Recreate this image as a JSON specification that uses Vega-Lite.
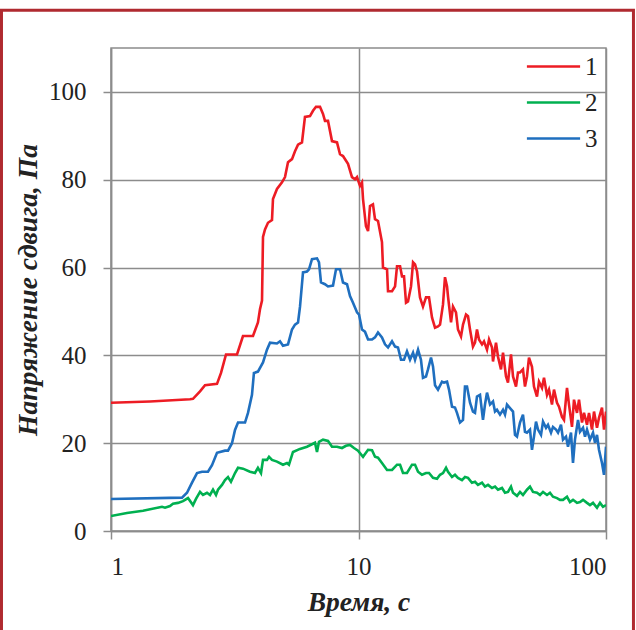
{
  "$schema": "https://vega.github.io/schema/vega-lite/v6.json",
  "width": 495,
  "height": 483,
  "autosize": {"type": "none"},
  "padding": {"left": 111, "top": 48, "right": 30, "bottom": 99},
  "background": "white",
  "config": {
    "view": {"stroke": "#8c8c8c", "strokeWidth": 1.5},
    "font": "Liberation Serif",
    "axis": {
      "gridColor": "#8c8c8c", "gridWidth": 1.5, "gridOpacity": 1,
      "domainColor": "#8c8c8c", "domainWidth": 1.5,
      "tickColor": "#8c8c8c", "tickWidth": 1.5, "tickSize": 8,
      "labelFont": "Liberation Serif", "labelFontSize": 25, "labelColor": "#222222",
      "titleFont": "Liberation Serif", "titleFontSize": 27.5, "titleFontStyle": "italic", "titleFontWeight": "bold", "titleColor": "#222222"
    }
  },
  "layer": [
    {
      "data": {"values": [
{"s":"1","t":1,"v":29.2},{"s":"1","t":1.437,"v":29.5},{"s":"1","t":2.085,"v":30.0},{"s":"1","t":2.144,"v":30.1},{"s":"1","t":2.289,"v":31.8},{"s":"1","t":2.398,"v":33.2},{"s":"1","t":2.681,"v":33.5},{"s":"1","t":2.783,"v":36},{"s":"1","t":2.915,"v":40.2},{"s":"1","t":3.229,"v":40.2},{"s":"1","t":3.414,"v":44.4},{"s":"1","t":3.747,"v":44.4},{"s":"1","t":3.924,"v":47.5},{"s":"1","t":3.999,"v":50.5},{"s":"1","t":4.075,"v":52.5},{"s":"1","t":4.113,"v":67},{"s":"1","t":4.19,"v":68.7},{"s":"1","t":4.308,"v":70.2},{"s":"1","t":4.472,"v":70.8},{"s":"1","t":4.513,"v":75.6},{"s":"1","t":4.684,"v":77.9},{"s":"1","t":4.908,"v":79.4},{"s":"1","t":5.047,"v":80.6},{"s":"1","t":5.19,"v":84},{"s":"1","t":5.386,"v":84.7},{"s":"1","t":5.539,"v":86.5},{"s":"1","t":5.697,"v":88},{"s":"1","t":5.911,"v":88.5},{"s":"1","t":6.077,"v":94.3},{"s":"1","t":6.368,"v":94.5},{"s":"1","t":6.549,"v":95.7},{"s":"1","t":6.734,"v":96.6},{"s":"1","t":6.989,"v":96.6},{"s":"1","t":7.188,"v":95},{"s":"1","t":7.322,"v":93.4},{"s":"1","t":7.53,"v":93.4},{"s":"1","t":7.815,"v":88.8},{"s":"1","t":8.187,"v":88.5},{"s":"1","t":8.42,"v":85.8},{"s":"1","t":8.657,"v":85.4},{"s":"1","t":9.07,"v":83.6},{"s":"1","t":9.412,"v":80.6},{"s":"1","t":9.679,"v":80.1},{"s":"1","t":9.861,"v":80.6},{"s":"1","t":10.14,"v":78.6},{"s":"1","t":10.33,"v":79.4},{"s":"1","t":10.43,"v":75.6},{"s":"1","t":10.72,"v":69.4},{"s":"1","t":10.93,"v":68.3},{"s":"1","t":11.13,"v":74},{"s":"1","t":11.44,"v":74.4},{"s":"1","t":11.66,"v":71},{"s":"1","t":11.99,"v":70.6},{"s":"1","t":12.44,"v":65.8},{"s":"1","t":12.56,"v":60},{"s":"1","t":13.04,"v":59.6},{"s":"1","t":13.16,"v":54.6},{"s":"1","t":13.66,"v":54.6},{"s":"1","t":14.05,"v":55.7},{"s":"1","t":14.31,"v":60.3},{"s":"1","t":14.72,"v":60.3},{"s":"1","t":14.99,"v":58},{"s":"1","t":15.27,"v":58},{"s":"1","t":15.56,"v":52},{"s":"1","t":15.85,"v":52.3},{"s":"1","t":16.3,"v":55.7},{"s":"1","t":16.61,"v":61.2},{"s":"1","t":16.92,"v":60.7},{"s":"1","t":17.24,"v":59.1},{"s":"1","t":17.72,"v":53.2},{"s":"1","t":18.22,"v":51.1},{"s":"1","t":18.74,"v":53.2},{"s":"1","t":19.27,"v":53.2},{"s":"1","t":19.82,"v":48.6},{"s":"1","t":20.38,"v":46.3},{"s":"1","t":20.95,"v":46.6},{"s":"1","t":21.35,"v":47},{"s":"1","t":21.95,"v":51.6},{"s":"1","t":22.36,"v":57.8},{"s":"1","t":22.79,"v":55.7},{"s":"1","t":23.0,"v":53.4},{"s":"1","t":23.65,"v":47.5},{"s":"1","t":24.09,"v":51.1},{"s":"1","t":24.77,"v":49.8},{"s":"1","t":25.23,"v":45.9},{"s":"1","t":25.95,"v":44.3},{"s":"1","t":26.44,"v":47},{"s":"1","t":27.19,"v":49.3},{"s":"1","t":27.7,"v":48.9},{"s":"1","t":28.22,"v":45.9},{"s":"1","t":29.01,"v":42},{"s":"1","t":29.56,"v":42.9},{"s":"1","t":30.11,"v":45.9},{"s":"1","t":30.68,"v":43.6},{"s":"1","t":31.55,"v":42.5},{"s":"1","t":32.14,"v":43.2},{"s":"1","t":33.05,"v":41.3},{"s":"1","t":33.68,"v":43.6},{"s":"1","t":34.63,"v":41.8},{"s":"1","t":34.95,"v":38.6},{"s":"1","t":35.94,"v":42.9},{"s":"1","t":36.61,"v":39.7},{"s":"1","t":37.65,"v":36.8},{"s":"1","t":38.36,"v":40.6},{"s":"1","t":39.45,"v":35.2},{"s":"1","t":40.18,"v":33.8},{"s":"1","t":41.32,"v":40.2},{"s":"1","t":42.1,"v":35.2},{"s":"1","t":43.29,"v":32.9},{"s":"1","t":44.1,"v":36.1},{"s":"1","t":44.93,"v":36.1},{"s":"1","t":46.19,"v":36.8},{"s":"1","t":47.06,"v":32.9},{"s":"1","t":47.94,"v":35.2},{"s":"1","t":48.85,"v":39.5},{"s":"1","t":50.23,"v":37.4},{"s":"1","t":51.17,"v":32.9},{"s":"1","t":52.62,"v":30.6},{"s":"1","t":53.61,"v":34},{"s":"1","t":55.13,"v":32.6},{"s":"1","t":56.17,"v":34.9},{"s":"1","t":57.76,"v":31},{"s":"1","t":58.84,"v":32.2},{"s":"1","t":60.5,"v":28.8},{"s":"1","t":61.64,"v":32.2},{"s":"1","t":63.39,"v":29.2},{"s":"1","t":64.58,"v":28.3},{"s":"1","t":66.41,"v":26},{"s":"1","t":67.66,"v":25.3},{"s":"1","t":69.57,"v":32.6},{"s":"1","t":70.88,"v":28.8},{"s":"1","t":72.88,"v":23.7},{"s":"1","t":74.25,"v":29.9},{"s":"1","t":76.35,"v":26.9},{"s":"1","t":77.79,"v":29.9},{"s":"1","t":79.99,"v":24.7},{"s":"1","t":81.49,"v":26.9},{"s":"1","t":83.8,"v":24.2},{"s":"1","t":85.37,"v":26.9},{"s":"1","t":87.79,"v":23.1},{"s":"1","t":89.44,"v":27.2},{"s":"1","t":91.96,"v":23.5},{"s":"1","t":93.69,"v":25.8},{"s":"1","t":96.34,"v":28.1},{"s":"1","t":98.15,"v":23.1},{"s":"1","t":100,"v":27.2},
{"s":"2","t":1,"v":3.4},{"s":"2","t":1.16,"v":4.1},{"s":"2","t":1.347,"v":4.6},{"s":"2","t":1.607,"v":5.5},{"s":"2","t":1.653,"v":5.3},{"s":"2","t":1.731,"v":5.7},{"s":"2","t":1.78,"v":6.2},{"s":"2","t":1.865,"v":6.4},{"s":"2","t":1.954,"v":6.8},{"s":"2","t":2.047,"v":7.5},{"s":"2","t":2.144,"v":5.9},{"s":"2","t":2.205,"v":7.3},{"s":"2","t":2.289,"v":8.9},{"s":"2","t":2.353,"v":8.2},{"s":"2","t":2.443,"v":8.7},{"s":"2","t":2.512,"v":8.2},{"s":"2","t":2.583,"v":9.4},{"s":"2","t":2.656,"v":8.2},{"s":"2","t":2.706,"v":9.4},{"s":"2","t":2.808,"v":10.5},{"s":"2","t":2.888,"v":11.6},{"s":"2","t":2.97,"v":12.3},{"s":"2","t":3.053,"v":11.2},{"s":"2","t":3.17,"v":13.2},{"s":"2","t":3.26,"v":14.4},{"s":"2","t":3.414,"v":14.2},{"s":"2","t":3.644,"v":13.5},{"s":"2","t":3.817,"v":13.2},{"s":"2","t":3.924,"v":14.4},{"s":"2","t":4.037,"v":13.2},{"s":"2","t":4.113,"v":16.2},{"s":"2","t":4.268,"v":16.2},{"s":"2","t":4.349,"v":16.9},{"s":"2","t":4.472,"v":16.2},{"s":"2","t":4.684,"v":15.8},{"s":"2","t":4.953,"v":15.1},{"s":"2","t":5.14,"v":15.5},{"s":"2","t":5.237,"v":15.1},{"s":"2","t":5.436,"v":18},{"s":"2","t":5.803,"v":18.7},{"s":"2","t":6.194,"v":19.2},{"s":"2","t":6.671,"v":20.1},{"s":"2","t":6.797,"v":18},{"s":"2","t":6.924,"v":20.3},{"s":"2","t":7.188,"v":20.8},{"s":"2","t":7.53,"v":20.5},{"s":"2","t":7.815,"v":19.2},{"s":"2","t":8.187,"v":19.2},{"s":"2","t":8.577,"v":18.9},{"s":"2","t":8.903,"v":19.4},{"s":"2","t":9.24,"v":19.6},{"s":"2","t":9.59,"v":18.9},{"s":"2","t":9.954,"v":18.3},{"s":"2","t":10.43,"v":16.9},{"s":"2","t":10.93,"v":18.5},{"s":"2","t":11.34,"v":18.4},{"s":"2","t":11.66,"v":16.9},{"s":"2","t":11.99,"v":16.7},{"s":"2","t":12.44,"v":15.5},{"s":"2","t":13.04,"v":13.9},{"s":"2","t":13.66,"v":13.9},{"s":"2","t":14.31,"v":15.1},{"s":"2","t":14.72,"v":15.1},{"s":"2","t":15.13,"v":13.2},{"s":"2","t":15.7,"v":13.2},{"s":"2","t":16.45,"v":15.1},{"s":"2","t":16.92,"v":15.1},{"s":"2","t":17.4,"v":13.5},{"s":"2","t":18.05,"v":12.8},{"s":"2","t":18.74,"v":13.2},{"s":"2","t":19.27,"v":13.2},{"s":"2","t":20.0,"v":12.1},{"s":"2","t":20.76,"v":11.9},{"s":"2","t":21.35,"v":12.8},{"s":"2","t":21.95,"v":13.2},{"s":"2","t":22.58,"v":14.4},{"s":"2","t":23.0,"v":13.5},{"s":"2","t":23.87,"v":12.3},{"s":"2","t":24.54,"v":12.8},{"s":"2","t":25.23,"v":12.1},{"s":"2","t":26.19,"v":11.6},{"s":"2","t":26.93,"v":12.3},{"s":"2","t":27.7,"v":12.1},{"s":"2","t":28.74,"v":11},{"s":"2","t":29.56,"v":11.2},{"s":"2","t":30.39,"v":10.5},{"s":"2","t":31.55,"v":11},{"s":"2","t":32.44,"v":10.1},{"s":"2","t":33.37,"v":10.5},{"s":"2","t":34.63,"v":9.8},{"s":"2","t":35.61,"v":10.1},{"s":"2","t":36.61,"v":9.4},{"s":"2","t":38.0,"v":9.8},{"s":"2","t":39.08,"v":8.7},{"s":"2","t":40.18,"v":8.9},{"s":"2","t":41.32,"v":10.1},{"s":"2","t":42.1,"v":8.7},{"s":"2","t":43.69,"v":8.0},{"s":"2","t":44.93,"v":8.9},{"s":"2","t":46.19,"v":8.2},{"s":"2","t":47.94,"v":9.4},{"s":"2","t":49.3,"v":10.1},{"s":"2","t":50.7,"v":8.9},{"s":"2","t":52.62,"v":8.7},{"s":"2","t":54.12,"v":8.2},{"s":"2","t":55.66,"v":8.9},{"s":"2","t":57.76,"v":8.2},{"s":"2","t":59.38,"v":8.7},{"s":"2","t":61.07,"v":7.8},{"s":"2","t":63.39,"v":7.5},{"s":"2","t":65.19,"v":7.1},{"s":"2","t":67.03,"v":7.1},{"s":"2","t":69.57,"v":7.8},{"s":"2","t":71.53,"v":6.6},{"s":"2","t":73.56,"v":7.1},{"s":"2","t":76.35,"v":6.4},{"s":"2","t":78.51,"v":6.6},{"s":"2","t":80.74,"v":7.1},{"s":"2","t":83.8,"v":6.4},{"s":"2","t":86.17,"v":5.9},{"s":"2","t":88.61,"v":6.4},{"s":"2","t":91.96,"v":5.3},{"s":"2","t":94.58,"v":6.4},{"s":"2","t":97.25,"v":5.5},{"s":"2","t":100,"v":5.9},
{"s":"3","t":1,"v":7.3},{"s":"3","t":1.936,"v":7.6},{"s":"3","t":2.028,"v":8.7},{"s":"3","t":2.125,"v":11},{"s":"3","t":2.226,"v":13.2},{"s":"3","t":2.332,"v":13.5},{"s":"3","t":2.465,"v":13.5},{"s":"3","t":2.559,"v":15},{"s":"3","t":2.681,"v":17.8},{"s":"3","t":2.888,"v":18.3},{"s":"3","t":2.97,"v":18.3},{"s":"3","t":3.082,"v":20},{"s":"3","t":3.17,"v":23},{"s":"3","t":3.26,"v":24.7},{"s":"3","t":3.479,"v":24.7},{"s":"3","t":3.577,"v":26.9},{"s":"3","t":3.712,"v":31},{"s":"3","t":3.78,"v":36},{"s":"3","t":3.924,"v":36.3},{"s":"3","t":4.113,"v":38.4},{"s":"3","t":4.268,"v":41.3},{"s":"3","t":4.39,"v":42.9},{"s":"3","t":4.684,"v":42.7},{"s":"3","t":4.817,"v":43.2},{"s":"3","t":4.953,"v":42.2},{"s":"3","t":5.19,"v":42.5},{"s":"3","t":5.386,"v":45.9},{"s":"3","t":5.539,"v":47},{"s":"3","t":5.697,"v":47.5},{"s":"3","t":5.803,"v":51.1},{"s":"3","t":5.967,"v":58.9},{"s":"3","t":6.194,"v":59.1},{"s":"3","t":6.31,"v":59.6},{"s":"3","t":6.488,"v":61.9},{"s":"3","t":6.797,"v":62.1},{"s":"3","t":6.924,"v":61.2},{"s":"3","t":7.055,"v":56.6},{"s":"3","t":7.322,"v":56.2},{"s":"3","t":7.53,"v":55.7},{"s":"3","t":7.889,"v":55.9},{"s":"3","t":8.112,"v":59.6},{"s":"3","t":8.42,"v":59.6},{"s":"3","t":8.657,"v":56.6},{"s":"3","t":8.986,"v":56.2},{"s":"3","t":9.24,"v":53.5},{"s":"3","t":9.502,"v":52},{"s":"3","t":9.861,"v":49.8},{"s":"3","t":10.05,"v":49.3},{"s":"3","t":10.33,"v":45.9},{"s":"3","t":10.62,"v":45.4},{"s":"3","t":10.93,"v":43.6},{"s":"3","t":11.34,"v":43.6},{"s":"3","t":11.66,"v":44.1},{"s":"3","t":11.99,"v":45.2},{"s":"3","t":12.44,"v":44.1},{"s":"3","t":12.8,"v":42.5},{"s":"3","t":13.16,"v":41.8},{"s":"3","t":13.66,"v":43.2},{"s":"3","t":14.05,"v":42},{"s":"3","t":14.44,"v":41.8},{"s":"3","t":14.85,"v":39},{"s":"3","t":15.27,"v":39},{"s":"3","t":15.7,"v":40.9},{"s":"3","t":16.15,"v":39},{"s":"3","t":16.61,"v":40.6},{"s":"3","t":16.92,"v":39},{"s":"3","t":17.4,"v":41.3},{"s":"3","t":17.88,"v":39},{"s":"3","t":18.22,"v":34.9},{"s":"3","t":18.74,"v":35.2},{"s":"3","t":19.09,"v":36.8},{"s":"3","t":19.63,"v":39.5},{"s":"3","t":20.0,"v":37.5},{"s":"3","t":20.38,"v":33.2},{"s":"3","t":20.95,"v":32.2},{"s":"3","t":21.75,"v":34},{"s":"3","t":22.16,"v":33.8},{"s":"3","t":22.79,"v":34},{"s":"3","t":23.21,"v":32.2},{"s":"3","t":23.87,"v":28.3},{"s":"3","t":24.54,"v":28.1},{"s":"3","t":25.0,"v":26.9},{"s":"3","t":25.71,"v":24.7},{"s":"3","t":26.44,"v":25.3},{"s":"3","t":26.93,"v":32.9},{"s":"3","t":27.44,"v":32.9},{"s":"3","t":28.22,"v":29.2},{"s":"3","t":29.01,"v":27.2},{"s":"3","t":29.56,"v":26.9},{"s":"3","t":30.11,"v":30.6},{"s":"3","t":30.97,"v":31},{"s":"3","t":31.84,"v":25.3},{"s":"3","t":32.44,"v":28.8},{"s":"3","t":33.05,"v":31.5},{"s":"3","t":33.99,"v":28.8},{"s":"3","t":34.95,"v":29.5},{"s":"3","t":35.61,"v":27.2},{"s":"3","t":36.27,"v":27.6},{"s":"3","t":37.3,"v":26.5},{"s":"3","t":38.36,"v":27.6},{"s":"3","t":39.08,"v":26.5},{"s":"3","t":39.81,"v":28.8},{"s":"3","t":40.94,"v":28},{"s":"3","t":42.1,"v":27.2},{"s":"3","t":42.89,"v":21.9},{"s":"3","t":43.69,"v":21.5},{"s":"3","t":44.93,"v":24.7},{"s":"3","t":46.19,"v":26.5},{"s":"3","t":47.06,"v":22.6},{"s":"3","t":47.94,"v":22.4},{"s":"3","t":49.3,"v":23.1},{"s":"3","t":50.23,"v":18.5},{"s":"3","t":51.17,"v":21.5},{"s":"3","t":52.14,"v":24.9},{"s":"3","t":53.12,"v":23.1},{"s":"3","t":54.63,"v":21.9},{"s":"3","t":55.66,"v":24.9},{"s":"3","t":57.23,"v":23.5},{"s":"3","t":58.3,"v":24.2},{"s":"3","t":59.95,"v":22.4},{"s":"3","t":61.07,"v":23.7},{"s":"3","t":62.81,"v":23.1},{"s":"3","t":63.99,"v":22.4},{"s":"3","t":65.79,"v":24.2},{"s":"3","t":67.03,"v":20.8},{"s":"3","t":68.93,"v":21.5},{"s":"3","t":70.22,"v":19.2},{"s":"3","t":72.2,"v":22.4},{"s":"3","t":73.56,"v":15.5},{"s":"3","t":74.93,"v":20.8},{"s":"3","t":77.07,"v":25.3},{"s":"3","t":78.51,"v":22.6},{"s":"3","t":80.74,"v":23.5},{"s":"3","t":82.26,"v":21.5},{"s":"3","t":83.8,"v":23.1},{"s":"3","t":86.17,"v":20.8},{"s":"3","t":88.61,"v":22.4},{"s":"3","t":90.28,"v":20.1},{"s":"3","t":91.96,"v":21.9},{"s":"3","t":93.69,"v":18.5},{"s":"3","t":96.34,"v":15.5},{"s":"3","t":98.15,"v":12.8},{"s":"3","t":100,"v":19.2}
      ]},
      "mark": {"type": "line", "strokeWidth": 2.6, "clip": true},
      "encoding": {
        "x": {
          "field": "t", "type": "quantitative",
          "scale": {"type": "log", "domain": [1, 100], "nice": false},
          "axis": {"values": [1, 10, 100], "format": "d", "title": "Время, с", "labelPadding": 15, "titlePadding": 9}
        },
        "y": {
          "field": "v", "type": "quantitative",
          "scale": {"domain": [0, 110], "nice": false},
          "axis": {"values": [0, 20, 40, 60, 80, 100], "title": "Напряжение сдвига, Па", "labelPadding": 17, "titlePadding": 6}
        },
        "color": {
          "field": "s", "type": "nominal",
          "scale": {"domain": ["1", "2", "3"], "range": ["#ed1c24", "#00b050", "#1f6fbf"]},
          "legend": {
            "orient": "none", "legendX": 422, "legendY": -2, "title": null,
            "symbolType": "M-1.4,0H1.4", "symbolSize": 1444, "symbolStrokeWidth": 2.5,
            "labelFont": "Liberation Serif", "labelFontSize": 25, "labelColor": "#222222", "labelOffset": 11
          }
        }
      }
    },
    {
      "data": {"values": [{}]},
      "mark": {"type": "rect", "filled": false, "stroke": "#b02a30", "strokeWidth": 3, "clip": false},
      "encoding": {
        "x": {"datum": 0.361, "type": "quantitative", "scale": {"type": "log", "domain": [1, 100], "nice": false}},
        "x2": {"datum": 129.1},
        "y": {"datum": 118.6, "type": "quantitative", "scale": {"domain": [0, 110], "nice": false}},
        "y2": {"datum": -24.9}
      }
    }
  ]
}
